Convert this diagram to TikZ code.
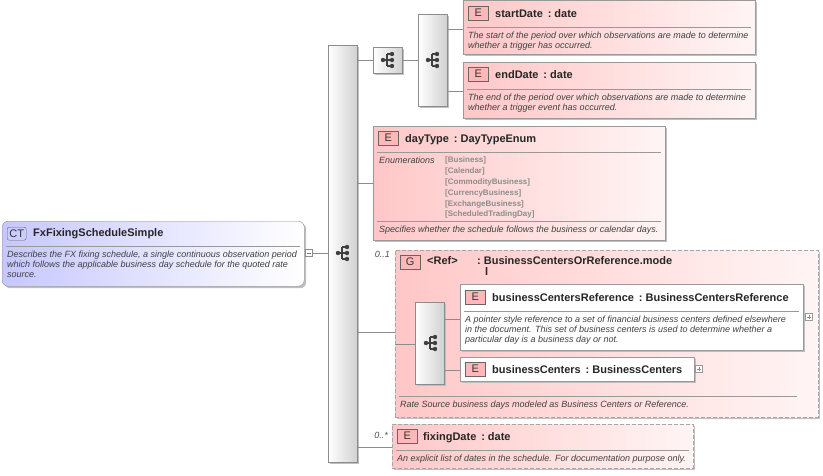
\documentclass[tikz,border=0pt]{standalone}
\usepackage{fontspec}
\setmainfont{Liberation Sans}
\usetikzlibrary{shadows}
\begin{document}
\begin{tikzpicture}[x=1pt,y=-1pt,
  shd/.style={drop shadow={shadow xshift=2pt,shadow yshift=-2pt,fill=black!25,opacity=1}},
  ebox/.style={shd,draw=black!40,line width=0.6pt,left color=red!22,right color=red!4,anchor=north west,inner sep=0pt},
  dbox/.style={ebox,dashed,dash pattern=on 4pt off 2pt,draw=black!35},
  ctbox/.style={shd,draw=black!45,rounded corners=6pt,left color=blue!22,right color=white,anchor=north west,inner sep=0pt},
  bar/.style={shd,draw=black!45,left color=white,right color=black!18,anchor=north west,inner sep=0pt},
  badge/.style={draw=black!60,fill=red!28,anchor=north west,minimum width=20pt,minimum height=14pt,inner sep=0pt,font=\fontsize{11}{11}\selectfont,text=black!80},
  ttl/.style={anchor=base west,inner sep=0pt,font=\fontsize{11}{12}\selectfont\bfseries,text=black!85},
  dsc/.style={anchor=base west,inner sep=0pt,font=\fontsize{9}{10}\selectfont\itshape,text=black!75},
  enm/.style={anchor=base west,inner sep=0pt,font=\fontsize{8}{9}\selectfont\bfseries,text=black!45},
  mult/.style={anchor=base east,inner sep=0pt,font=\fontsize{9}{10}\selectfont\itshape,text=black!70},
  sep/.style={draw=black!40,line width=0.5pt},
  con/.style={draw=black!45,line width=0.6pt},
  sq/.pic={
    \fill[black!75] (-6,0) circle (2.2);
    \draw[black!75,line width=1.1pt] (-6,0)--(-2,0) (-2,-6)--(-2,6) (-2,-6)--(3,-6) (-2,6)--(3,6) (-2,0)--(3,0);
    \fill[black!75] (3,-6) circle (2.2) (3,0) circle (2.2) (3,6) circle (2.2);
  }]
\useasboundingbox (0,0) rectangle (823,475);
% CT
\node[ctbox,minimum width=302pt,minimum height=65pt] (ct) at (2,221) {};
\node[draw=black!60,fill=blue!20,rounded corners=2pt,anchor=north west,minimum width=19pt,minimum height=13pt,inner sep=0pt,font=\fontsize{11}{11}\selectfont,text=black!80] (ctb) at (7,227) {CT};
\node[ttl] (ctt) at (33,236) {FxFixingScheduleSimple};
\draw[sep] (6,246) -- (300,246);
\node[dsc] (ctd1) at (7,257) {Describes the FX fixing schedule, a single continuous observation period};
\node[dsc] (ctd2) at (7,267) {which follows the applicable business day schedule for the quoted rate};
\node[dsc] (ctd3) at (7,277) {source.};
\node[draw=black!45,fill=white,minimum size=7pt,inner sep=0pt] (minus) at (309,253) {};
\draw[black!55,line width=0.5pt] (307,253)--(311,253);
% main bar
\node[bar,minimum width=29pt,minimum height=417pt] (mb) at (328,45) {};
\pic at (344,253) {sq};
\draw[con] (minus.east) -- (mb.west |- minus.east);
% small seq
\node[bar,minimum width=29pt,minimum height=26pt] (s1) at (373,47) {};
\pic at (389,60) {sq};
\node[bar,minimum width=29pt,minimum height=92pt] (s2) at (418,14) {};
\pic at (434,60) {sq};
\draw[con] (mb.east |- s1.west) -- (s1.west);
\draw[con] (s1.east) -- (s2.west |- s1.east);
% startDate
\node[ebox,minimum width=292pt,minimum height=54pt] (sd) at (463,0) {};
\node[badge] (sdb) at (468,6) {E};
\node[ttl] (sdt) at (495,17) {startDate\ \,:\ date};
\draw[sep] (467,27) -- (751,27);
\node[dsc] (sdd1) at (468,38) {The start of the period over which observations are made to determine};
\node[dsc] (sdd2) at (468,48) {whether a trigger has occurred.};
% endDate
\node[ebox,minimum width=292pt,minimum height=56pt] (ed) at (463,62) {};
\node[badge] (edb) at (468,67) {E};
\node[ttl] (edt) at (495,78) {endDate\ \,:\ date};
\draw[sep] (467,89) -- (751,89);
\node[dsc] (edd1) at (468,100) {The end of the period over which observations are made to determine};
\node[dsc] (edd2) at (468,110) {whether a trigger event has occurred.};
\draw[con] (s2.east |- 0,29) -- (sd.west |- 0,29);
\draw[con] (s2.east |- 0,91) -- (ed.west |- 0,91);
% dayType
\node[ebox,minimum width=292pt,minimum height=114pt] (dt) at (373,126) {};
\node[badge] (dtb) at (378,131) {E};
\node[ttl] (dtt) at (405,142) {dayType\ \,:\ DayTypeEnum};
\draw[sep] (377,152) -- (661,152);
\node[dsc] (dte) at (379,163) {Enumerations};
\node[enm] (e1) at (445,162) {[Business]};
\node[enm] (e2) at (445,173) {[Calendar]};
\node[enm] (e3) at (445,184) {[CommodityBusiness]};
\node[enm] (e4) at (445,195) {[CurrencyBusiness]};
\node[enm] (e5) at (445,206) {[ExchangeBusiness]};
\node[enm] (e6) at (445,216) {[ScheduledTradingDay]};
\draw[sep] (377,221) -- (661,221);
\node[dsc] (dtd) at (379,232) {Specifies whether the schedule follows the business or calendar days.};
\draw[con] (mb.east |- 0,183) -- (dt.west |- 0,183);
% group
\node[dbox,minimum width=423pt,minimum height=167pt] (grp) at (395,250) {};
\node[mult] (m1) at (390,257) {0..1};
\node[badge] (gb) at (400,255) {G};
\node[ttl] (gr) at (427,264) {<Ref>};
\node[ttl] (gt) at (477,264) {:\ BusinessCentersOrReference.mode};
\node[ttl] (gl) at (485,275) {l};
\node[bar,minimum width=29pt,minimum height=82pt] (s3) at (415,302) {};
\pic at (432,343) {sq};
\draw[con] (mb.east |- 0,332) -- (grp.west |- 0,332);
\draw[con] (grp.west |- 0,344) -- (s3.west |- 0,344);
\node[ebox,left color=white,right color=white,minimum width=343pt,minimum height=66pt] (bcr) at (460,284) {};
\node[badge] (bcrb) at (465,290) {E};
\node[ttl] (bcrt) at (492,301) {businessCentersReference\ \,:\ BusinessCentersReference};
\draw[sep] (464,311) -- (799,311);
\node[dsc] (bcrd1) at (465,322) {A pointer style reference to a set of financial business centers defined elsewhere};
\node[dsc] (bcrd2) at (465,332) {in the document. This set of business centers is used to determine whether a};
\node[dsc] (bcrd3) at (465,342) {particular day is a business day or not.};
\node[draw=black!40,fill=white,minimum size=7pt,inner sep=0pt] (p1) at (809,317) {};
\draw[black!45,line width=0.4pt] (807,317)--(811,317) (809,315)--(809,319);
\node[ebox,left color=white,right color=white,minimum width=234pt,minimum height=24pt] (bc) at (460,357) {};
\node[badge] (bcb) at (465,362) {E};
\node[ttl] (bct) at (492,373) {businessCenters\ \,:\ BusinessCenters};
\node[draw=black!40,fill=white,minimum size=7pt,inner sep=0pt] (p2) at (699,369) {};
\draw[black!45,line width=0.4pt] (697,369)--(701,369) (699,367)--(699,371);
\draw[con] (s3.east |- 0,319) -- (bcr.west |- 0,319);
\draw[con] (s3.east |- 0,370) -- (bc.west |- 0,370);
\draw[sep] (399,396) -- (797,396);
\node[dsc] (gd) at (400,407) {Rate Source business days modeled as Business Centers or Reference.};
% fixingDate
\node[dbox,minimum width=301pt,minimum height=44pt] (fd) at (392,424) {};
\node[mult] (m2) at (388,438) {0..*};
\node[badge] (fdb) at (397,429) {E};
\node[ttl] (fdt) at (423,440) {fixingDate\ \,:\ date};
\draw[sep] (396,450) -- (689,450);
\node[dsc] (fdd) at (397,461) {An explicit list of dates in the schedule. For documentation purpose only.};
\draw[con] (mb.east |- 0,447) -- (fd.west |- 0,447);
\end{tikzpicture}
\end{document}
